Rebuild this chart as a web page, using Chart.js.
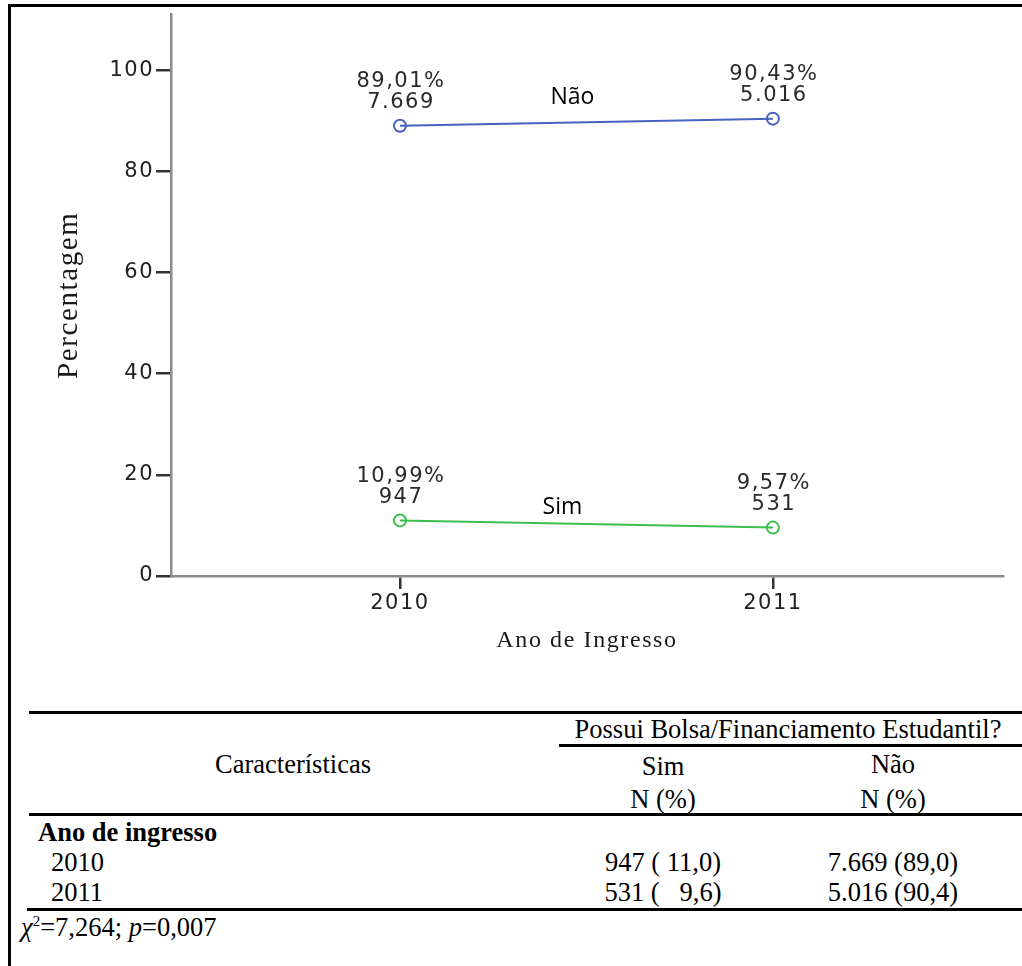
<!DOCTYPE html>
<html>
<head>
<meta charset="utf-8">
<script src="https://cdn.jsdelivr.net/npm/chart.js@4.4.1/dist/chart.umd.min.js"></script>
<style>
  html, body { margin: 0; padding: 0; background: #fff; }
  body { width: 1022px; height: 966px; position: relative; overflow: hidden; }
  #frameTop { position: absolute; left: 8px; top: 4px; width: 1014px; height: 3px; background: #000; }
  #frameLeft { position: absolute; left: 8px; top: 4px; width: 3px; height: 962px; background: #000; }
  #chart { position: absolute; left: 0; top: 0; }
  .rule { position: absolute; height: 3px; background: #000; }
  .t { position: absolute; font-family: "Liberation Serif", "Times New Roman", serif; font-size: 26.5px;
       line-height: 30px; height: 30px; white-space: pre; color: #000; }
  .c { transform: translateX(-50%); }
</style>
</head>
<body>
<div id="frameTop"></div>
<div id="frameLeft"></div>
<canvas id="chart" width="1022" height="680"></canvas>
<div id="table"></div>
<script>
// ---- data ----
const years = [2010, 2011];
const naoPct = [89.01, 90.43];
const simPct = [10.99, 9.57];
const naoN = ['7.669', '5.016'];
const simN = ['947', '531'];
const seriesNames = ['Não', 'Sim'];
const yTicks = [0, 20, 40, 60, 80, 100];

// table
const tableHeaderTop = 'Possui Bolsa/Financiamento Estudantil?';
const tableCols = ['Sim', 'Não'];
const tableUnit = 'N (%)';
const tableRowGroup = 'Ano de ingresso';
const tableRows = ['2010', '2011'];
const tableSim = ['947 ( 11,0)', '531 (   9,6)'];
const tableNao = ['7.669 (89,0)', '5.016 (90,4)'];

const fmtPct = v => v.toFixed(2).replace('.', ',') + '%';

const labelPlugin = {
  id: 'pointLabels',
  beforeDraw(chart) { chart.ctx.letterSpacing = '1.6px'; },
  beforeDatasetsDraw(chart) { chart.ctx.letterSpacing = '0px'; },
  afterDatasetsDraw(chart) {
    const ctx = chart.ctx;
    chart.data.datasets.forEach((ds, di) => {
      const meta = chart.getDatasetMeta(di);
      ctx.save();
      ctx.letterSpacing = '1.5px';
      ctx.font = '21px "DejaVu Sans"';
      ctx.fillStyle = '#2a2a2a';
      ctx.textAlign = 'center';
      ctx.textBaseline = 'middle';
      meta.data.forEach((pt, i) => {
        ctx.fillText(ds.pctText[i], pt.x + 1, pt.y - 44);
        ctx.fillText(ds.nText[i], pt.x + 1, pt.y - 23);
      });
      ctx.letterSpacing = '0px';
      ctx.font = '23px "Open Sans"';
      ctx.fillStyle = '#000';
      const p0 = meta.data[0], p1 = meta.data[meta.data.length - 1];
      const off = ds.nameOffset;
      ctx.fillText(ds.label, (p0.x + p1.x) / 2 + off[0], (p0.y + p1.y) / 2 + off[1]);
      ctx.restore();
    });
    ctx.letterSpacing = '1.5px';
  },
  afterDraw(chart) { chart.ctx.letterSpacing = '0px'; }
};

const tickFont = { family: 'DejaVu Sans', size: 21 };

new Chart(document.getElementById('chart'), {
  type: 'line',
  data: {
    datasets: [
      {
        label: seriesNames[0],
        data: years.map((x, i) => ({ x, y: naoPct[i] })),
        pctText: naoPct.map(fmtPct),
        nText: naoN,
        nameOffset: [-14, -25],
        borderColor: '#4862c2',
        borderWidth: 2,
        pointRadius: 6,
        pointBorderWidth: 2,
        pointBorderColor: '#4862c2',
        pointBackgroundColor: 'rgba(255,255,255,0)',
        tension: 0
      },
      {
        label: seriesNames[1],
        data: years.map((x, i) => ({ x, y: simPct[i] })),
        pctText: simPct.map(fmtPct),
        nText: simN,
        nameOffset: [-24, -17],
        borderColor: '#3dbf4f',
        borderWidth: 2,
        pointRadius: 6,
        pointBorderWidth: 2,
        pointBorderColor: '#3dbf4f',
        pointBackgroundColor: 'rgba(255,255,255,0)',
        tension: 0
      }
    ]
  },
  options: {
    responsive: false,
    animation: false,
    devicePixelRatio: 1,
    layout: { padding: { top: 14, right: 19, left: 0, bottom: 0 } },
    plugins: { legend: { display: false }, tooltip: { enabled: false } },
    scales: {
      x: {
        type: 'linear',
        min: 2009.386,
        max: 2011.617,
        afterBuildTicks: s => { s.ticks = years.map(v => ({ value: v })); },
        afterFit: s => { s.height = 104; },
        grid: { drawOnChartArea: false, tickLength: 13, color: '#333', lineWidth: 2.5 },
        border: { color: '#8a8a8a', width: 2.5 },
        ticks: { z: 1, color: '#222', font: tickFont, padding: 2, autoSkip: false, maxRotation: 0,
                 callback: v => String(v) },
        title: { display: true, text: 'Ano de Ingresso', color: '#1a1a1a',
                 font: { family: 'Liberation Serif', size: 24 }, padding: { top: 0, bottom: 25 } }
      },
      y: {
        min: 0,
        max: 111,
        afterBuildTicks: s => { s.ticks = yTicks.map(v => ({ value: v })); },
        afterFit: s => { s.width = 171; },
        grid: { drawOnChartArea: false, tickLength: 15, color: '#333', lineWidth: 2.5 },
        border: { color: '#8a8a8a', width: 2.5 },
        ticks: { z: 1, color: '#222', font: tickFont, padding: 2, callback: v => String(v) },
        title: { display: true, text: 'Percentagem', color: '#1a1a1a',
                 font: { family: 'Liberation Serif', size: 29 }, padding: { top: 52, bottom: 0 } }
      }
    }
  },
  plugins: [labelPlugin]
});

// ---- table below the chart ----
const tbl = document.getElementById('table');
function rule(left, top) {
  const d = document.createElement('div');
  d.className = 'rule';
  d.style.left = left + 'px';
  d.style.top = top + 'px';
  d.style.width = (1022 - left) + 'px';
  tbl.appendChild(d);
}
function text(html, x, cy, center, extra) {
  const s = document.createElement('div');
  s.className = 't' + (center ? ' c' : '');
  s.style.left = x + 'px';
  s.style.top = (cy - 15) + 'px';
  if (extra) Object.assign(s.style, extra);
  s.innerHTML = html;
  tbl.appendChild(s);
}
rule(29, 711);
rule(559, 744);
rule(29, 813);
rule(27, 908);
text(tableHeaderTop, 788, 729, true);
text('Características', 293, 764, true);
text(tableCols[0], 663, 766, true);
text(tableCols[1], 893, 764, true);
text(tableUnit, 663, 799, true);
text(tableUnit, 893, 799, true);
text(tableRowGroup, 38, 832, false, { fontWeight: 'bold' });
tableRows.forEach((r, i) => {
  const cy = 862 + i * 30;
  text(r, 51, cy, false);
  text(tableSim[i], 663, cy, true);
  text(tableNao[i], 893, cy, true);
});
text('<i>χ</i><sup style="font-size:15px;line-height:0">2</sup>=7,264; <i>p</i>=0,007', 21, 927, false);
</script>
</body>
</html>
